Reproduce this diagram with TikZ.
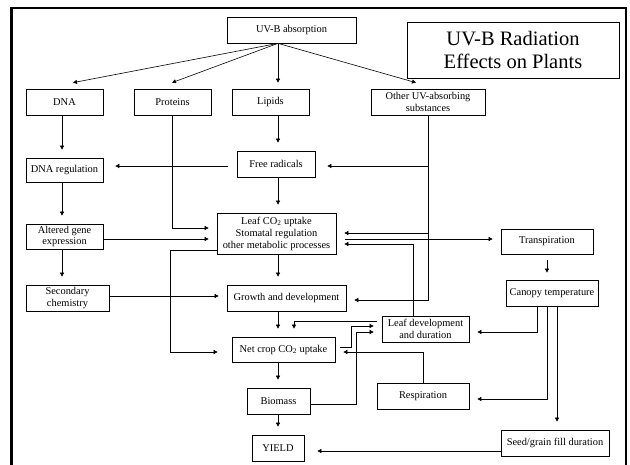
\documentclass[tikz,border=0pt]{standalone}
\usepackage{fontspec}
\setmainfont{Liberation Serif}
\usepackage{tikz}
\usetikzlibrary{arrows.meta,calc}

\begin{document}
\begin{tikzpicture}[x=1pt,y=-1pt]
        \tikzstyle{every node} = [draw, line width=0.7pt, align=center, inner sep=1pt, font=\fontsize{10.4}{12}\selectfont]
        \tikzstyle{sz} = [minimum width=#1pt]
        \tikzstyle{arr} = [-{Triangle[length=4pt,width=4pt]}, line width=0.6pt, shorten >=8pt]
        \useasboundingbox (0,0) rectangle (630,465);
        \draw[line width=2.5pt] (11.5,465) -- (11.5,8) -- (626,8) -- (626,465);

        \node[sz=129, minimum height=26pt] (uvb) at (291.5,30) {UV-B absorption};
        \node[sz=212, minimum height=56pt, font=\fontsize{20.5}{23}\selectfont] (title) at (513,50) {UV-B Radiation\\Effects on Plants};
        \node[sz=77, minimum height=26pt] (dna) at (64.5,102) {DNA};
        \node[sz=77, minimum height=26pt] (prot) at (172.5,102) {Proteins};
        \node[sz=77, minimum height=26pt] (lip) at (270.5,102) {Lipids};
        \node[sz=114, minimum height=26pt] (other) at (428,102) {Other UV-absorbing\\substances};
        \node[sz=77, minimum height=24pt] (dnareg) at (64.5,170) {DNA regulation};
        \node[sz=78, minimum height=26pt] (free) at (276,164) {Free radicals};
        \node[sz=119, minimum height=41pt] (leafco2) at (276.5,233.5) {Leaf CO\textsubscript{2} uptake\\Stomatal regulation\\other metabolic processes};
        \node[sz=77, minimum height=25pt] (alt) at (64.5,236.5) {Altered gene\\expression};
        \node[sz=83, minimum height=26pt] (sec) at (67.5,298) {Secondary\\chemistry};
        \node[sz=119, minimum height=26pt] (grow) at (286.5,298) {Growth and development};
        \node[sz=103, minimum height=25pt] (net) at (283.5,349.5) {Net crop CO\textsubscript{2} uptake};
        \node[sz=87, minimum height=26pt] (leafdev) at (425.5,329) {Leaf development\\and duration};
        \node[sz=92, minimum height=25pt] (transp) at (547,241.5) {Transpiration};
        \node[sz=92, minimum height=26pt] (canopy) at (552,293) {Canopy temperature};
        \node[sz=63, minimum height=26pt] (bio) at (278.5,401) {Biomass};
        \node[sz=92, minimum height=26pt] (resp) at (423,396) {Respiration};
        \node[sz=108, minimum height=26pt] (seed) at (555,443) {Seed/grain fill duration};
        \node[sz=52, minimum height=26pt] (yield) at (278,448) {YIELD};

        \coordinate (spine) at (278,0);
        \coordinate (dcol) at (62,0);

        \foreach \to/\dx in {dna/8.5, prot/-0.5, lip/7.5, other/-12}
            \draw[arr, shorten >=0pt] (uvb.south -| spine) -- ($(\to.north)+(\dx,-6)$);
        \foreach \from/\to in {lip/free, free/leafco2, leafco2/grow, grow/net, net/bio, bio/yield}
            \draw[arr] (\from.south -| spine) -- (\to.north -| spine);
        \foreach \from/\to in {dna/dnareg, dnareg/alt, alt/sec}
            \draw[arr] (\from.south -| dcol) -- (\to.north -| dcol);

        \draw[arr, shorten <=9pt, shorten >=12pt] ($(free.west)+(0,2)$) -- ($(dnareg.east)+(0,-4)$);
        \draw[arr, shorten >=12pt] (other.south) |- ($(free.east)+(0,2)$);
        \draw[arr] (other.south) |- ($(leafco2.east)+(0,-0.5)$);
        \draw[arr] (other.south) |- ($(grow.east)+(0,2)$);
        \draw[arr] (prot.south) |- ($(leafco2.west)+(0,-5.5)$);
        \draw[arr] ($(alt.east)+(0,2.5)$) -- ($(leafco2.west)+(0,5.5)$);
        \draw[arr] ($(sec.east)+(0,-2)$) -- ($(grow.west)+(0,-2)$);
        \draw[arr, shorten >=14pt] ($(leafco2.west)+(0,16.5)$) -- ++(-46,0) |- ($(net.west)+(0,2.5)$);
        \draw[arr, shorten <=5pt] ($(leafdev.west)+(0,-8)$) -| ($(net.north)+(10.5,0)$);
        \draw[arr, shorten <=5pt] ($(net.east)+(0,-2.5)$) -- ++(16,0) |- ($(leafdev.west)+(0,-3)$);
        \draw[arr] ($(bio.east)+(0,3)$) -- ++(46,0) |- ($(leafdev.west)+(0,3)$);
        \draw[arr] ($(leafdev.north)+(-12.5,0)$) |- ($(leafco2.east)+(0,10.5)$);
        \draw[arr, shorten <=9pt] ($(leafco2.east)+(0,5.5)$) -- ($(transp.west)+(0,-2.5)$);
        \draw[arr, shorten <=6pt, shorten >=7pt] (transp.south) -- (transp.south |- canopy.north);
        \draw[arr] ($(canopy.south)+(-15,0)$) |- ($(leafdev.east)+(0,3)$);
        \draw[arr] ($(canopy.south)+(-5,0)$) |- ($(resp.east)+(0,3)$);
        \draw[arr] ($(canopy.south)+(5,0)$) -- ($(seed.north)+(2,0)$);
        \draw[arr, shorten >=13pt] ($(seed.west)+(0,8)$) -- ($(yield.east)+(0,3)$);
        \draw[arr] (resp.north) |- ($(net.east)+(0,2.5)$);
    \end{tikzpicture}
\end{document}
